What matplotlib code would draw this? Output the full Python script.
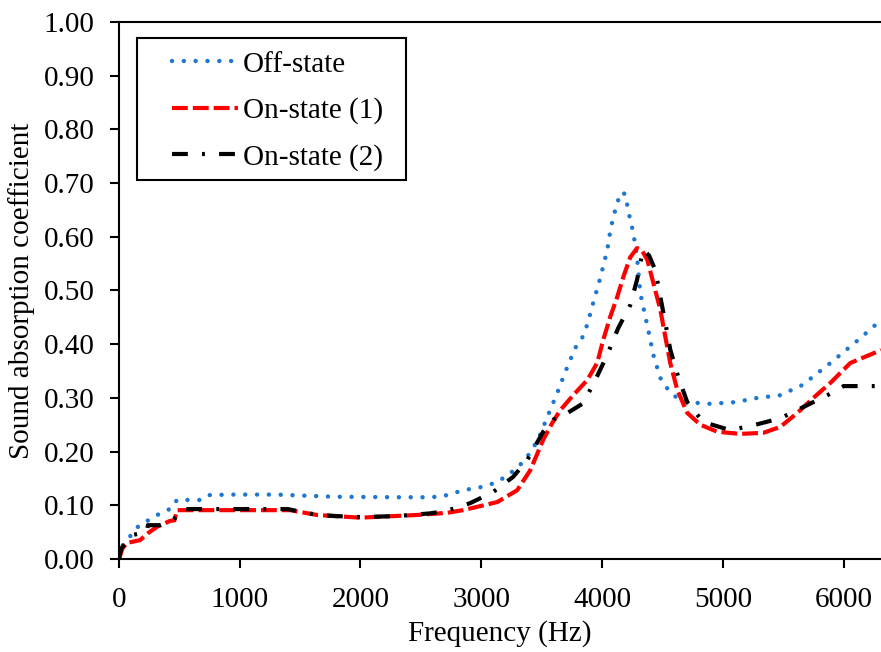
import matplotlib
matplotlib.use('Agg')
import matplotlib.pyplot as plt
from matplotlib.patches import Rectangle

plt.rcParams['font.family'] = ['Liberation Serif', 'DejaVu Serif']

# Off-state (blue dotted)
off_freq = [0, 30, 66, 157, 298, 439, 480, 671, 737, 945, 1300, 1773, 2328, 2577,
            2684, 2850, 3000, 3132, 3297, 3380, 3471, 3546, 3629, 3695, 3778, 3836,
            3877, 3927, 3985, 4043, 4068, 4093, 4130, 4151, 4190, 4234, 4258, 4290,
            4317, 4383, 4425, 4483, 4548, 4620, 4706, 4896, 5100, 5286, 5476, 5659,
            5891, 6122, 6310]
off_alpha = [0.005, 0.025, 0.035, 0.06, 0.08, 0.095, 0.11, 0.11, 0.119, 0.12, 0.12,
             0.116, 0.115, 0.115, 0.117, 0.128, 0.134, 0.143, 0.169, 0.19, 0.222,
             0.264, 0.309, 0.348, 0.393, 0.412, 0.436, 0.477, 0.523, 0.575, 0.61,
             0.637, 0.665, 0.682, 0.68, 0.631, 0.609, 0.562, 0.495, 0.426, 0.38,
             0.337, 0.315, 0.30, 0.292, 0.289, 0.292, 0.30, 0.305, 0.324, 0.365,
             0.408, 0.445]

# On-state (1) (red dashed)
on1_freq = [0, 30, 66, 174, 240, 315, 423, 460, 480, 945, 1417, 1640, 1997, 2469,
            2717, 2850, 3132, 3297, 3405, 3513, 3587, 3654, 3761, 3877, 3960, 4010,
            4068, 4126, 4176, 4234, 4290, 4330, 4375, 4425, 4483, 4524, 4565, 4623,
            4706, 4814, 4954, 5145, 5336, 5476, 5617, 5750, 5891, 6056, 6310]
on1_alpha = [0.0, 0.02, 0.03, 0.035, 0.048, 0.06, 0.071, 0.072, 0.091, 0.091, 0.091,
             0.082, 0.077, 0.082, 0.086, 0.091, 0.106, 0.128, 0.165, 0.222, 0.253,
             0.277, 0.305, 0.333, 0.365, 0.408, 0.451, 0.488, 0.525, 0.562, 0.579,
             0.575, 0.557, 0.514, 0.464, 0.414, 0.365, 0.315, 0.272, 0.25, 0.237,
             0.233, 0.235, 0.246, 0.272, 0.30, 0.328, 0.365, 0.389]

# On-state (2) (black dash-dot)
on2_freq = [0, 20, 116, 230, 240, 340, 447, 530, 945, 1400, 1500, 1650, 1800, 2000,
            2300, 2577, 2717, 2908, 3100, 3264, 3380, 3513, 3600, 3679, 3844, 3944,
            4043, 4134, 4234, 4290, 4340, 4390, 4441, 4483, 4524, 4565, 4631, 4706,
            4838, 5062, 5253, 5476, 5667, 5866, 6000, 6056, 6310]
on2_alpha = [0.0, 0.02, 0.045, 0.05, 0.063, 0.063, 0.072, 0.093, 0.093, 0.093, 0.088,
             0.082, 0.08, 0.078, 0.08, 0.085, 0.09, 0.104, 0.125, 0.153, 0.184,
             0.237, 0.26, 0.267, 0.29, 0.333, 0.38, 0.43, 0.473, 0.52, 0.576, 0.565,
             0.538, 0.488, 0.44, 0.39, 0.339, 0.292, 0.255, 0.24, 0.249, 0.262,
             0.283, 0.305, 0.322, 0.322, 0.322]

x_ticks = [0, 1000, 2000, 3000, 4000, 5000, 6000]
y_ticks = [0.0, 0.1, 0.2, 0.3, 0.4, 0.5, 0.6, 0.7, 0.8, 0.9, 1.0]

fig = plt.figure(figsize=(8.81, 6.52), dpi=100)
ax = fig.add_axes([0.135, 0.1426, 0.865, 0.8237])

ax.plot(off_freq, off_alpha, color='#1f77d0', lw=3.2,
        linestyle=(0, (0.01, 2.65)), dash_capstyle='round', label='Off-state')
ax.plot(on1_freq, on1_alpha, color='#ff0000', lw=3.0,
        linestyle=(0, (3.8, 1.2)), label='On-state (1)')
ax.plot(on2_freq, on2_alpha, color='black', lw=3.0,
        linestyle=(0, (3.8, 3.4, 0.7, 3.4)), label='On-state (2)')

ax.set_xlim(0, 6310)
ax.set_ylim(0, 1.0)
ax.set_xticks(x_ticks)
ax.set_yticks(y_ticks)
ax.set_yticklabels(['%.2f' % v for v in y_ticks])
ax.tick_params(direction='out', length=6.5, width=1.5, labelsize=21)
ax.tick_params(axis='x', pad=14)
ax.tick_params(axis='y', pad=11)
for side in ['left', 'bottom', 'top']:
    ax.spines[side].set_linewidth(1.5)
ax.spines['right'].set_visible(False)

ax.set_xlabel('Frequency (Hz)', fontsize=21, labelpad=5)
ax.set_ylabel('Sound absorption coefficient', fontsize=21, labelpad=6)

# legend without its own frame, box drawn separately
leg = ax.legend(loc='upper left', bbox_to_anchor=(0.0696, 0.9455), borderaxespad=0,
                fontsize=21, frameon=False, handlelength=2.25,
                handletextpad=0.17, labelspacing=0.67, borderpad=0)
ax.add_patch(Rectangle((0.0236, 0.7058), 0.353, 0.2644, transform=ax.transAxes,
                       fill=False, edgecolor='black', lw=1.5, zorder=5))

fig.savefig('out.png', dpi=100)
